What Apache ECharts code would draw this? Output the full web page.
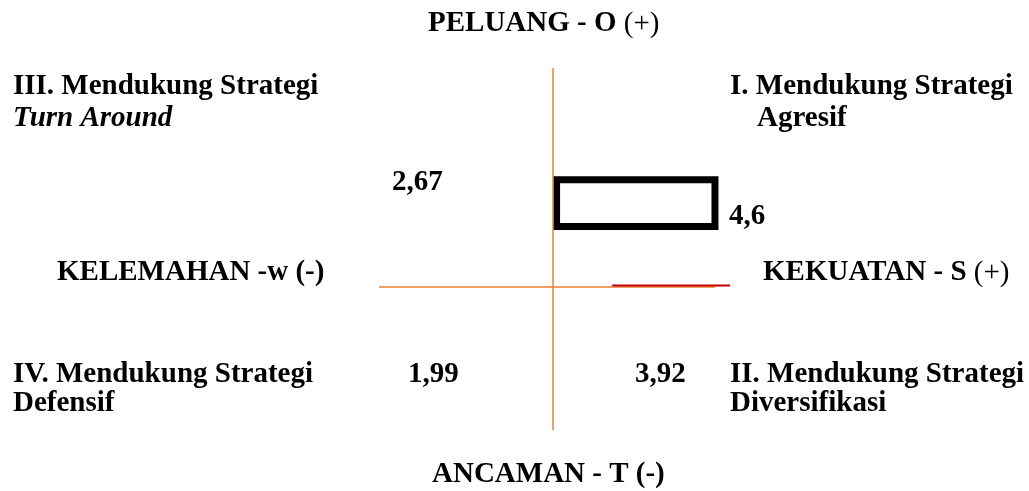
<!DOCTYPE html>
<html>
<head>
<meta charset="utf-8">
<script src="https://cdn.jsdelivr.net/npm/echarts@6/dist/echarts.min.js"></script>
<style>
html, body { margin: 0; padding: 0; background: #fff; }
#chart { width: 1029px; height: 491px; }
</style>
</head>
<body>
<div id="chart"></div>
<script>
// garis sumbu dan kotak posisi (satuan skor)
var horizontalAxis = [[-4.94, 0], [4.6, 0]];
var verticalAxis = [[0, 6.22], [0, -4.06]];
var redSegment = [[1.68, 0.045], [5.03, 0.045]];
var boxX = [0.1, 4.6];
var boxY = [1.72, 3.05];

// nilai skor
var scores = [2.67, 4.6, 1.99, 3.92];

// teks
var axisNames = ['PELUANG - O ', 'KEKUATAN - S ', 'ANCAMAN - T (-)', 'KELEMAHAN -w (-)'];
var quadrantTitles = ['I. Mendukung Strategi', 'II. Mendukung Strategi', 'III. Mendukung Strategi', 'IV. Mendukung Strategi'];
var quadrantStrategies = ['Agresif', 'Diversifikasi', 'Turn Around', 'Defensif'];

var FONT = 'bold 29px "Liberation Serif", "Times New Roman", serif';

function fmt(v) {
	return String(v).replace('.', ',');
}

// baseline -> middle
function txt(text, x, baseline, extra) {
	var style = {
		text: text,
		x: x,
		y: baseline - 10,
		font: FONT,
		fill: '#000',
		verticalAlign: 'middle',
		textAlign: 'left'
	};
	if (extra) {
		for (var k in extra) style[k] = extra[k];
	}
	return {type: 'text', silent: true, style: style};
}

function richTxt(main, tail, x, baseline) {
	return {
		type: 'text',
		silent: true,
		style: {
			text: '{b|' + main + '}{r|' + tail + '}',
			x: x,
			y: baseline - 10,
			verticalAlign: 'middle',
			textAlign: 'left',
			rich: {
				b: {fontFamily: 'Liberation Serif', fontWeight: 'bold', fontSize: 29, fill: '#000', color: '#000'},
				r: {fontFamily: 'Liberation Serif', fontWeight: 'normal', fontSize: 29, fill: '#000', color: '#000'}
			}
		}
	};
}

var myChart = echarts.init(document.getElementById('chart'));

var option = {
	animation: false,
	backgroundColor: '#fff',
	grid: {left: 0, right: 0, top: 0, bottom: 0},
	xAxis: {type: 'value', min: -15.71, max: 13.52, show: false},
	yAxis: {type: 'value', min: -5.795, max: 8.153, show: false},
	series: [{
		type: 'line',
		data: horizontalAxis,
		symbol: 'none',
		lineStyle: {color: '#ED7D31', width: 1.5}
	}, {
		type: 'line',
		data: verticalAxis,
		symbol: 'none',
		lineStyle: {color: '#ED7D31', width: 1.5}
	}, {
		type: 'line',
		data: redSegment,
		symbol: 'none',
		lineStyle: {color: '#C00000', width: 2}
	}, {
		type: 'custom',
		data: [[boxX[0], boxY[0], boxX[1], boxY[1]]],
		renderItem: function(params, api) {
			var p1 = api.coord([api.value(0), api.value(3)]);
			var p2 = api.coord([api.value(2), api.value(1)]);
			return {
				type: 'rect',
				shape: {x: p1[0], y: p1[1], width: p2[0] - p1[0], height: p2[1] - p1[1]},
				style: {fill: 'none', stroke: '#000', lineWidth: 7, lineJoin: 'miter'}
			};
		}
	}],
	graphic: [
		richTxt(axisNames[0], '(+)', 428, 34),
		txt(quadrantTitles[2], 13, 97),
		txt(quadrantStrategies[2], 13, 129, {font: 'italic bold 29px "Liberation Serif", serif'}),
		txt(quadrantTitles[0], 730, 97),
		txt(quadrantStrategies[0], 757, 129),
		txt(fmt(scores[0]), 392, 193),
		txt(fmt(scores[1]), 729, 227),
		txt(axisNames[3], 57, 283),
		richTxt(axisNames[1], '(+)', 763, 283),
		txt(quadrantTitles[3], 13, 385),
		txt(quadrantStrategies[3], 13, 414),
		txt(fmt(scores[2]), 408, 385),
		txt(fmt(scores[3]), 635, 385),
		txt(quadrantTitles[1], 730, 385),
		txt(quadrantStrategies[1], 730, 414),
		txt(axisNames[2], 432, 485)
	]
};

myChart.setOption(option);
</script>
</body>
</html>
